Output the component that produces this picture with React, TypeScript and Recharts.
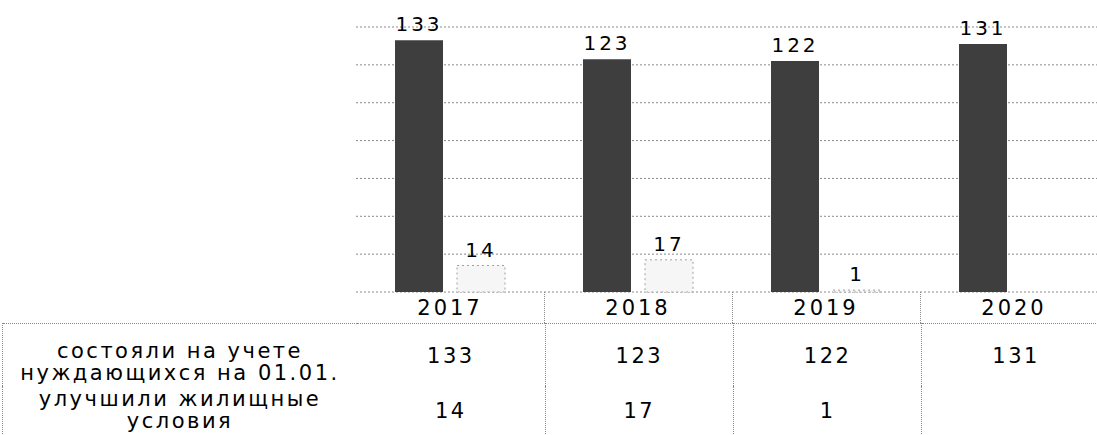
import React from 'react';
import { BarChart, Bar, XAxis, YAxis, CartesianGrid, LabelList } from 'recharts';

const years = ['2017', '2018', '2019', '2020'];
const registered = [133, 123, 122, 131];
const improved: (number | null)[] = [14, 17, 1, null];
const yTicks = [0, 20, 40, 60, 80, 100, 120, 140];

const rowNames = [
  ['состояли на учете', 'нуждающихся на 01.01.'],
  ['улучшили жилищные', 'условия'],
];

const data = years.map((year, i) => ({
  year,
  registered: registered[i],
  improved: improved[i],
}));

// layout of the scanned Excel chart
const FONT = '"DejaVu Sans", Verdana, sans-serif';
const PLOT_LEFT = 356;
const CAT_W = 188;
const CHART_W = PLOT_LEFT + CAT_W * 4 + 2;
const AXIS_Y = 292;
const TABLE_TOP = 323;
const LINE = '1px dotted #8a8a8a';

const labelStyle = { fontSize: 20, fontFamily: FONT, fill: '#000', letterSpacing: 3 };

const App: React.FC = () => {
  const cellText: React.CSSProperties = {
    fontFamily: FONT,
    fontSize: 21,
    letterSpacing: 2.5,
    color: '#000',
    textAlign: 'center',
    lineHeight: '22px',
  };

  return (
    <div style={{ position: 'absolute', left: 0, top: 0, width: 1097, height: 435, overflow: 'hidden', background: '#fff' }}>
      <BarChart
        width={CHART_W}
        height={TABLE_TOP}
        data={data}
        margin={{ top: 27, right: 2, left: PLOT_LEFT, bottom: 0 }}
        barSize={48}
        barGap={14}
      >
        <CartesianGrid vertical={false} stroke="#8a8a8a" strokeDasharray="2 2" />
        <YAxis hide domain={[0, 140]} ticks={yTicks} />
        <XAxis
          dataKey="year"
          height={TABLE_TOP - AXIS_Y}
          axisLine={false}
          tickLine={false}
          interval={0}
          tick={{ fontSize: 21, fontFamily: FONT, fill: '#000', letterSpacing: 3 }}
        />
        <Bar dataKey="registered" fill="#3e3e3e" isAnimationActive={false}>
          <LabelList dataKey="registered" position="top" offset={9} style={labelStyle} />
        </Bar>
        <Bar dataKey="improved" fill="#f6f6f6" stroke="#a0a0a0" strokeDasharray="2 3" isAnimationActive={false}>
          <LabelList dataKey="improved" position="top" offset={9} style={labelStyle} />
        </Bar>
      </BarChart>

      {/* column dividers of the data table (header row) */}
      {years.slice(1).map((y, i) => (
        <div
          key={y}
          style={{
            position: 'absolute',
            left: PLOT_LEFT + CAT_W * (i + 1),
            top: AXIS_Y,
            height: TABLE_TOP - AXIS_Y,
            borderLeft: LINE,
          }}
        />
      ))}

      <table
        style={{
          position: 'absolute',
          left: 2,
          top: TABLE_TOP,
          width: CHART_W - 2,
          borderCollapse: 'collapse',
          tableLayout: 'fixed',
          borderTop: LINE,
        }}
      >
        <colgroup>
          <col style={{ width: PLOT_LEFT - 2 }} />
          {years.map((y) => (
            <col key={y} style={{ width: CAT_W }} />
          ))}
        </colgroup>
        <tbody>
          {[registered, improved].map((series, r) => (
            <tr key={r} style={{ height: r === 0 ? 62 : 60 }}>
              <td
                style={{
                  ...cellText,
                  borderLeft: LINE,
                  padding: 0,
                  paddingTop: r === 0 ? 16 : 2,
                  verticalAlign: 'top',
                  whiteSpace: 'nowrap',
                }}
              >
                {rowNames[r][0]}
                <br />
                {rowNames[r][1]}
              </td>
              {series.map((v, i) => (
                <td
                  key={i}
                  style={{
                    ...cellText,
                    borderLeft: i > 0 ? LINE : 'none',
                    padding: 0,
                    paddingTop: r === 0 ? 21 : 14,
                    verticalAlign: 'top',
                  }}
                >
                  {v ?? ''}
                </td>
              ))}
            </tr>
          ))}
        </tbody>
      </table>
    </div>
  );
};

export default App;
